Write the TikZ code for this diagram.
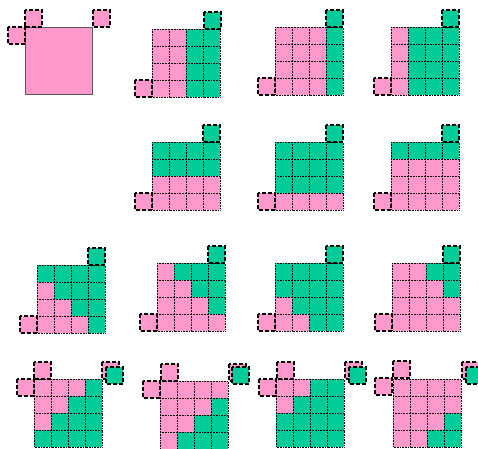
\documentclass[tikz,border=0pt]{standalone}
\definecolor{cellpink}{RGB}{255,153,204}
\definecolor{cellgreen}{RGB}{0,204,153}
\begin{document}
\begin{tikzpicture}[x=1pt,y=-1pt]
  \tikzset{
    pcell/.style={fill=cellpink, draw=black, line width=0.7pt, dash pattern=on 0.8pt off 0.8pt},
    gcell/.style={fill=cellgreen, draw=black, line width=0.7pt, dash pattern=on 0.8pt off 0.8pt},
    pfree/.style={fill=cellpink, draw=black, line width=1.2pt, dash pattern=on 4pt off 2pt},
    gfree/.style={fill=cellgreen, draw=black, line width=1.2pt, dash pattern=on 4pt off 2pt},
    pics/board/.style={code={
        \foreach \rw [count=\cy from 0] in {#1} {
          \foreach \c [count=\cx from 0] in \rw {
            \path[\c cell] (17*\cx,17*\cy) rectangle ++(17,17);
          }
        }
      }},
  }
  \clip (0,0) rectangle (478,448);
  % first square
  \path[fill=cellpink, draw=black!65, line width=0.8pt] (25,27) rectangle (92,94);
  % rows one and two
  \pic at (152,29) {board={{p,p,g,g},{p,p,g,g},{p,p,g,g},{p,p,g,g}}};
  \pic at (275,27) {board={{p,p,p,g},{p,p,p,g},{p,p,p,g},{p,p,p,g}}};
  \pic at (391,27) {board={{p,g,g,g},{p,g,g,g},{p,g,g,g},{p,g,g,g}}};
  \pic at (152,142) {board={{g,g,g,g},{g,g,g,g},{p,p,p,p},{p,p,p,p}}};
  \pic at (275,142) {board={{g,g,g,g},{g,g,g,g},{g,g,g,g},{p,p,p,p}}};
  \pic at (391,142) {board={{g,g,g,g},{p,p,p,p},{p,p,p,p},{p,p,p,p}}};
  % row three
  \pic at (37,265) {board={{g,g,g,g},{p,g,g,g},{p,p,g,g},{p,p,p,g}}};
  \pic at (157,263) {board={{p,g,g,g},{p,p,g,g},{p,p,p,g},{p,p,p,p}}};
  \pic at (275,263) {board={{g,g,g,g},{g,g,g,g},{p,g,g,g},{p,p,g,g}}};
  \pic at (392,263) {board={{p,p,g,g},{p,p,p,g},{p,p,p,p},{p,p,p,p}}};
  % row four
  \pic at (34,379) {board={{p,p,p,g},{p,p,g,g},{p,g,g,g},{g,g,g,g}}};
  \pic at (160,381) {board={{p,p,p,p},{p,p,p,g},{p,p,g,g},{p,g,g,g}}};
  \pic at (276,379) {board={{p,p,g,g},{p,g,g,g},{g,g,g,g},{g,g,g,g}}};
  \pic at (393,379) {board={{p,p,p,p},{p,p,p,p},{p,p,p,g},{p,p,g,g}}};
  % loose cells
  \foreach \x/\y in {25/10, 8/27, 93/10, 135/80, 258/78, 374/78, 135/193, 258/193,
      374/193, 20/316, 140/314, 258/314, 375/314, 34/362, 17/379, 102/362,
      161/364, 143/381, 229/364, 277/362, 259/379, 345/362, 393/361, 375/378, 462/362}
    \path[pfree] (\x,\y) rectangle ++(17,17);
  \foreach \x/\y in {204/12, 326/10, 442/10, 203/125, 326/125, 442/125, 88/248,
      208/246, 326/246, 443/246, 106/367, 232/367, 349/367, 466/367}
    \path[gfree] (\x,\y) rectangle ++(17,17);
\end{tikzpicture}
\end{document}
